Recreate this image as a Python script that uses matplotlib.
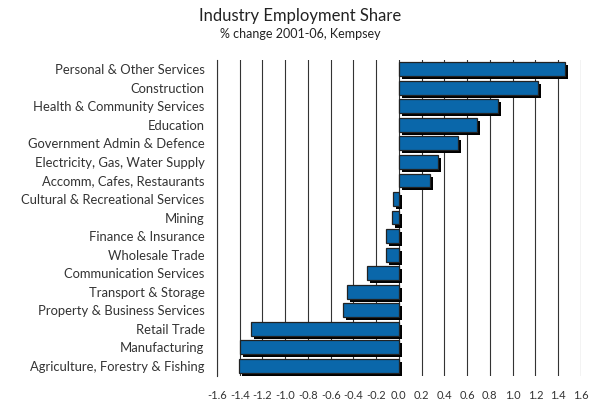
import matplotlib
matplotlib.use("Agg")
import matplotlib.pyplot as plt
import matplotlib.patheffects as pe
import numpy as np

categories = [
    "Personal & Other Services",
    "Construction",
    "Health & Community Services",
    "Education",
    "Government Admin & Defence",
    "Electricity, Gas, Water Supply",
    "Accomm, Cafes, Restaurants",
    "Cultural & Recreational Services",
    "Mining",
    "Finance & Insurance",
    "Wholesale Trade",
    "Communication Services",
    "Transport & Storage",
    "Property & Business Services",
    "Retail Trade",
    "Manufacturing",
    "Agriculture, Forestry & Fishing",
]
values = [1.46, 1.22, 0.87, 0.69, 0.52, 0.34, 0.27, -0.05, -0.06, -0.11, -0.11,
          -0.28, -0.46, -0.49, -1.30, -1.40, -1.41]
xticks = [-1.6, -1.4, -1.2, -1.0, -0.8, -0.6, -0.4, -0.2, 0.0, 0.2, 0.4, 0.6, 0.8, 1.0, 1.2, 1.4, 1.6]

plt.rcParams['font.family'] = ['Lato', 'DejaVu Sans']
txt = '#333333'

fig = plt.figure(figsize=(6, 4), dpi=100)
ax = fig.add_axes([0.3617, 0.06, 0.6063, 0.79])

n = len(categories)
y = np.arange(n)[::-1]
bars = ax.barh(y, values, height=0.75, color='#0A67AA', edgecolor='#222222',
               linewidth=0.9, zorder=3)
for b in bars:
    b.set_path_effects([pe.SimplePatchShadow(offset=(2.2, -2.2), shadow_rgbFace='black', alpha=1.0),
                        pe.Normal()])

ax.set_xlim(-1.6, 1.6)
ax.set_ylim(-0.55, n - 0.5)
ax.set_xticks(xticks)
ax.set_xticklabels([f"{v:.1f}".replace("-0.0", "0.0") for v in xticks], color=txt, fontsize=8)
ax.set_yticks(y)
ax.set_yticklabels(categories, color=txt, fontsize=9.4)
ax.tick_params(axis='y', length=0, pad=9)
ax.tick_params(axis='x', length=0, pad=10)
ax.xaxis.grid(True, color='#333333', linewidth=0.8, zorder=0)
ax.set_axisbelow(True)
for s in ['top', 'right', 'bottom']:
    ax.spines[s].set_visible(False)
ax.spines['left'].set_color('#333333')
ax.spines['left'].set_linewidth(0.8)

fig.text(0.5, 0.96, "Industry Employment Share", ha='center', va='center', fontsize=12, color='#222222')
fig.text(0.5, 0.915, "% change 2001-06, Kempsey", ha='center', va='center', fontsize=9, color='#222222')

fig.savefig("out.png", dpi=100)
